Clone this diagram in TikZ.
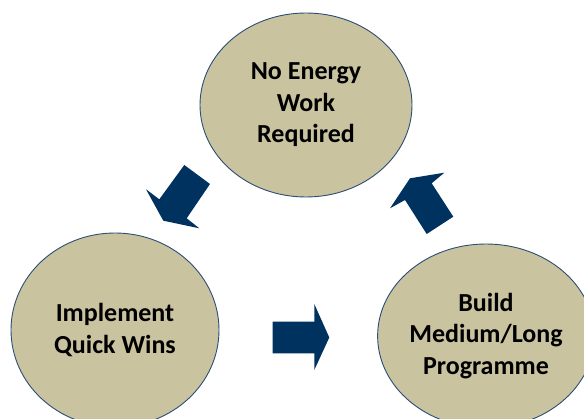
\documentclass[tikz,border=0pt]{standalone}
\usepackage{fontspec}
\setmainfont{Carlito}
\usetikzlibrary{shapes.geometric}
\definecolor{tanfill}{RGB}{201,195,160}
\definecolor{tanline}{RGB}{44,77,117}
\definecolor{navy}{RGB}{0,50,96}
\tikzset{
  stage/.style={ellipse, draw=tanline, line width=0.9pt, fill=tanfill, inner sep=0pt,
    align=center, font=\bfseries\fontsize{26}{31.5}\selectfont, text=black},
  blockarrow/.style={fill=navy, draw=none}
}
\begin{document}
\begin{tikzpicture}[x=1pt,y=-1pt]
\useasboundingbox (0,0) rectangle (584,419);
\begin{scope}
\clip (0,0) rectangle (584,419);
\node[stage, minimum width=212pt, minimum height=184pt] (top) at (306,105) {No Energy\\Work\\Required};
\node[stage, minimum width=208pt, minimum height=194pt] (left) at (115,330) {Implement\\Quick Wins};
\node[stage, minimum width=202pt, minimum height=184pt] (right) at (486,336) {Build\\Medium/Long\\Programme};
\end{scope}
% arrow from top towards left
\fill[blockarrow] (184.3,165) -- (210,184) -- (186.7,218.3) -- (199.3,228.3) -- (163.3,220.7) -- (146,189.3) -- (159.3,199.3) -- cycle;
% arrow from left towards right
\fill[blockarrow] (272.7,321.7) -- (314.3,321.7) -- (314.3,304) -- (329.3,337.5) -- (314.3,370) -- (314.3,353.3) -- (272.7,353.3) -- cycle;
% arrow from right towards top
\fill[blockarrow] (410,178.3) -- (444.3,172.7) -- (431.7,183.3) -- (453.3,216.7) -- (426.7,234) -- (405,200) -- (390,208.3) -- cycle;
\end{tikzpicture}
\end{document}
